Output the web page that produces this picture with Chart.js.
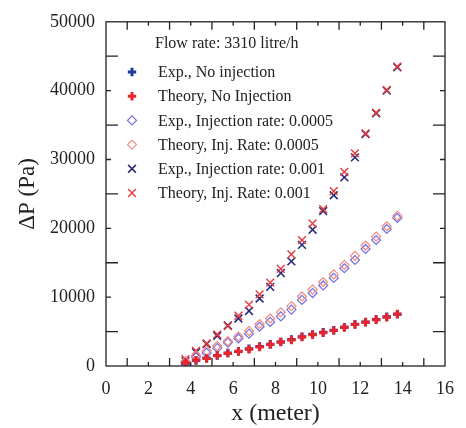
<!DOCTYPE html>
<html>
<head>
<meta charset="utf-8">
<script src="https://cdn.jsdelivr.net/npm/chart.js@4"></script>
<style>
  html, body { margin: 0; padding: 0; background: #fff; }
  #wrap { width: 466px; height: 428px; position: relative; }
</style>
</head>
<body>
<div id="wrap"><canvas id="chart"></canvas></div>
<script>
// positions along the pipe (m)
const xPos = [3.75, 4.25, 4.75, 5.25, 5.75, 6.25, 6.75, 7.25, 7.75, 8.25, 8.75,
  9.25, 9.75, 10.25, 10.75, 11.25, 11.75, 12.25, 12.75, 13.25, 13.75];

// pressure drop (Pa)
const expNoInj = [350, 800, 1150, 1500, 1900, 2150, 2500, 2850, 3150, 3500, 3850,
  4250, 4600, 4900, 5200, 5650, 6050, 6400, 6750, 7150, 7500];
const theoryNoInj = [470, 860, 1100, 1540, 1830, 2110, 2440, 2770, 3120, 3490, 3780,
  4210, 4550, 4840, 5170, 5600, 6030, 6360, 6710, 7080, 7570];
const expInj0005 = [500, 1300, 1900, 2600, 3400, 4000, 4700, 5700, 6400, 7200, 8200,
  9600, 10600, 11700, 12800, 14200, 15400, 17000, 18300, 19900, 21500];
const theoryInj0005 = [700, 1500, 2200, 2900, 3600, 4300, 5100, 6100, 6900, 7800, 8700,
  10100, 11100, 12200, 13300, 14700, 16000, 17500, 18800, 20300, 21800];
const expInj001 = [700, 2000, 3200, 4400, 5900, 6900, 8000, 9800, 11500, 13500, 15200,
  17600, 19800, 22500, 24800, 27400, 30300, 33700, 36700, 40000, 43400];
const theoryInj001 = [1000, 2200, 3300, 4600, 5800, 7300, 8900, 10400, 12100, 14100, 16200,
  18300, 20700, 22800, 25400, 28200, 30900, 33800, 36800, 40100, 43500];

const seriesLabels = ['Exp., No injection', 'Theory, No Injection',
  'Exp., Injection rate: 0.0005', 'Theory, Inj. Rate: 0.0005',
  'Exp., Injection rate: 0.001', 'Theory, Inj. Rate: 0.001'];
const legendTitle = 'Flow rate: 3310 litre/h';
const xTicks = [0, 2, 4, 6, 8, 10, 12, 14, 16];
const yTicks = [0, 10000, 20000, 30000, 40000, 50000];

const serif = '"Liberation Serif", "DejaVu Serif", serif';
const ink = '#222';

function pts(ys) {
  return xPos.map((x, i) => ({ x: x, y: ys[i] }));
}

const datasets = [
  { label: seriesLabels[0], data: pts(expNoInj), pointStyle: 'cross', pointRadius: 4.2,
    pointBorderWidth: 3, borderColor: '#1f3f9f', backgroundColor: '#1f3f9f', order: 3 },
  { label: seriesLabels[1], data: pts(theoryNoInj), pointStyle: 'cross', pointRadius: 4.2,
    pointBorderWidth: 3, borderColor: '#e8242c', backgroundColor: '#e8242c', order: 0 },
  { label: seriesLabels[2], data: pts(expInj0005), pointStyle: 'rectRot', pointRadius: 4.5,
    pointBorderWidth: 1.2, borderColor: '#7070e6', backgroundColor: 'rgba(0,0,0,0)', order: 4 },
  { label: seriesLabels[3], data: pts(theoryInj0005), pointStyle: 'rectRot', pointRadius: 4.5,
    pointBorderWidth: 1.2, borderColor: '#f28a84', backgroundColor: 'rgba(0,0,0,0)', order: 1 },
  { label: seriesLabels[4], data: pts(expInj001), pointStyle: 'crossRot', pointRadius: 5.5,
    pointBorderWidth: 1.6, borderColor: '#2b2b7b', backgroundColor: '#2b2b7b', order: 5 },
  { label: seriesLabels[5], data: pts(theoryInj001), pointStyle: 'crossRot', pointRadius: 5.5,
    pointBorderWidth: 1.4, borderColor: '#e83a3a', backgroundColor: '#e83a3a', order: 2 }
];

// frame with inward ticks on all four sides
const framePlugin = {
  id: 'frame',
  afterDatasetsDraw(chart) {
    const { ctx, chartArea: a, scales } = chart;
    const xs = scales.x, ys = scales.y;
    ctx.save();
    ctx.strokeStyle = ink;
    ctx.lineWidth = 1.3;
    ctx.strokeRect(a.left, a.top, a.right - a.left, a.bottom - a.top);
    ctx.beginPath();
    for (let v = 1; v < 16; v++) {
      const px = xs.getPixelForValue(v);
      const len = v % 2 ? 8 : 4;
      ctx.moveTo(px, a.bottom); ctx.lineTo(px, a.bottom - len);
      ctx.moveTo(px, a.top); ctx.lineTo(px, a.top + len);
    }
    for (let v = 5000; v < 50000; v += 5000) {
      const py = ys.getPixelForValue(v);
      const len = (v / 5000) % 2 ? 12 : 5;
      ctx.moveTo(a.left, py); ctx.lineTo(a.left + len, py);
      ctx.moveTo(a.right, py); ctx.lineTo(a.right - len, py);
    }
    ctx.stroke();
    ctx.restore();
  }
};

// legend drawn inside the plot
const insideLegend = {
  id: 'insideLegend',
  afterDraw(chart) {
    const { ctx } = chart;
    ctx.save();
    ctx.font = '16px ' + serif;
    ctx.fillStyle = ink;
    ctx.textBaseline = 'middle';
    ctx.fillText(legendTitle, 155, 44);
    chart.data.datasets.forEach((ds, i) => {
      const y = 72 + i * 24.2;
      ctx.strokeStyle = ds.borderColor;
      ctx.fillStyle = ds.backgroundColor;
      ctx.lineWidth = ds.pointBorderWidth;
      Chart.helpers.drawPoint(ctx, {
        pointStyle: ds.pointStyle, radius: ds.pointRadius,
        borderWidth: ds.pointBorderWidth, rotation: 0
      }, 132, y);
      ctx.fillStyle = ink;
      ctx.fillText(ds.label, 158, y + 1);
    });
    ctx.restore();
  }
};

new Chart(document.getElementById('chart'), {
  type: 'scatter',
  data: { datasets: datasets },
  options: {
    responsive: true,
    maintainAspectRatio: false,
    animation: false,
    layout: { padding: { top: 18, right: 9, left: 0, bottom: 0 } },
    plugins: { legend: { display: false }, tooltip: { enabled: false } },
    scales: {
      x: {
        type: 'linear', min: 0, max: 16,
        afterBuildTicks(s) { s.ticks = xTicks.map(v => ({ value: v })); },
        afterFit(s) { s.height = 62; },
        grid: { display: false, drawTicks: false },
        border: { display: false },
        ticks: { padding: 12, color: ink, font: { family: serif, size: 18 }, maxRotation: 0,
          callback: v => String(v) },
        title: { display: true, text: 'x (meter)', color: ink, padding: { top: 9, bottom: 0 },
          font: { family: serif, size: 24 } }
      },
      y: {
        type: 'linear', min: 0, max: 50000,
        afterBuildTicks(s) { s.ticks = yTicks.map(v => ({ value: v })); },
        afterFit(s) { s.width = 106; },
        grid: { display: false, drawTicks: false },
        border: { display: false },
        ticks: { padding: 11, color: ink, font: { family: serif, size: 18 },
          callback: v => String(v) },
        title: { display: true, text: 'ΔP (Pa)', color: ink, padding: { top: 14, bottom: 0 },
          font: { family: serif, size: 23 } }
      }
    }
  },
  plugins: [framePlugin, insideLegend]
});
</script>
</body>
</html>
